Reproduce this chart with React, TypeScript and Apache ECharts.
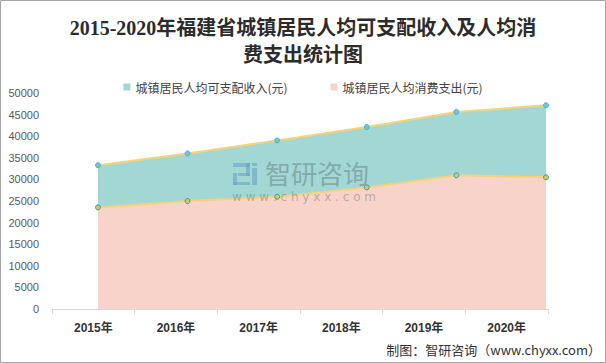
import React, { useEffect, useRef } from "react";
import * as echarts from "echarts";

const categories = ["2015年", "2016年", "2017年", "2018年", "2019年", "2020年"];
const incomeValues = [33275, 36014, 39001, 42121, 45620, 47160];
const consumeValues = [23520, 24982, 25980, 28145, 30947, 30487];
const incomeName = "城镇居民人均可支配收入(元)";
const consumeName = "城镇居民人均消费支出(元)";
const titleText = "2015-2020年福建省城镇居民人均可支配收入及人均消\n费支出统计图";
const footerText = "制图：智研咨询（www.chyxx.com）";
const watermarkUrl = "w w w . c h y x x . c o m";

export default function App() {
  const ref = useRef<HTMLDivElement>(null);
  useEffect(() => {
    document.body.style.margin = "0";
    const chart = echarts.init(ref.current!, undefined, { renderer: "svg" });
    const wmColor = "rgba(80,100,110,0.4)";
    const iconColor = "rgba(100,160,200,0.55)";
    const iconRects = [
      [233, 163, 17, 4],
      [246, 163, 4, 13],
      [238, 173, 12, 3],
      [233, 173, 4, 12],
      [233, 182, 17, 3],
      [252, 168, 5, 17],
      [252, 163, 5, 3],
    ];
    const option: any = {
      animation: false,
      backgroundColor: "#ffffff",
      title: {
        text: titleText,
        left: "center",
        top: 9,
        textStyle: {
          fontSize: 20,
          fontWeight: "bold",
          fontFamily: "'Liberation Serif', 'Noto Sans CJK SC', serif",
          color: "#2b2b2b",
          lineHeight: 27,
        },
      },
      legend: {
        top: 76,
        left: "center",
        icon: "rect",
        itemWidth: 7,
        itemHeight: 7,
        itemGap: 43,
        textStyle: {
          fontSize: 12,
          color: "#404040",
          fontFamily: "'Noto Sans CJK SC', sans-serif",
        },
        data: [
          { name: incomeName, itemStyle: { color: "#a2d7d4", borderWidth: 0 } },
          { name: consumeName, itemStyle: { color: "#f8d3ca", borderWidth: 0 } },
        ],
      },
      grid: { left: 52, right: 58, top: 93, bottom: 54 },
      xAxis: [
        {
          type: "category",
          data: categories,
          boundaryGap: true,
          axisLine: { show: true, lineStyle: { color: "#d9d9d9", width: 1 } },
          axisTick: { show: true, length: 5, lineStyle: { color: "#d9d9d9" } },
          axisLabel: {
            fontSize: 12,
            fontWeight: "bold",
            color: "#333333",
            margin: 13,
            fontFamily: "'Liberation Sans', 'Noto Sans CJK SC', sans-serif",
          },
          splitLine: { show: false },
          z: 5,
        },
        {
          type: "value",
          show: false,
          min: -0.513,
          max: 5.022,
          splitLine: { show: false },
        },
      ],
      yAxis: {
        type: "value",
        min: 0,
        max: 50000,
        interval: 5000,
        axisLine: { show: false },
        axisTick: { show: false },
        splitLine: { show: false },
        axisLabel: {
          fontSize: 11,
          color: "#595959",
          margin: 13,
          fontFamily: "'Liberation Sans', sans-serif",
          formatter: (v: number) => String(v),
        },
      },
      series: [
        {
          name: incomeName,
          type: "line",
          xAxisIndex: 1,
          data: incomeValues.map((v, i) => [i, v]),
          symbol: "circle",
          symbolSize: 5,
          showSymbol: true,
          lineStyle: { color: "#f8d27a", width: 2 },
          itemStyle: { color: "#6cc6dc", borderColor: "#45b4d2", borderWidth: 1 },
          areaStyle: { color: "#a2d7d4", opacity: 1 },
          z: 2,
        },
        {
          name: consumeName,
          type: "line",
          xAxisIndex: 1,
          data: consumeValues.map((v, i) => [i, v]),
          symbol: "circle",
          symbolSize: 5,
          showSymbol: true,
          lineStyle: { color: "#f8d27a", width: 2 },
          itemStyle: { color: "#e8c24a", borderColor: "#1f9fc4", borderWidth: 1 },
          areaStyle: { color: "#f8d3ca", opacity: 1 },
          z: 3,
        },
      ],
      graphic: [
        ...iconRects.map((r) => ({
          type: "rect",
          z: 100,
          silent: true,
          shape: { x: r[0], y: r[1], width: r[2], height: r[3] },
          style: { fill: iconColor },
        })),
        {
          type: "text",
          z: 100,
          silent: true,
          x: 265,
          y: 172,
          style: {
            text: "智研咨询",
            fontSize: 26,
            fill: wmColor,
            fontFamily: "'Noto Sans CJK SC', sans-serif",
            verticalAlign: "middle",
          },
        },
        {
          type: "text",
          z: 100,
          silent: true,
          x: 232,
          y: 197,
          style: {
            text: watermarkUrl,
            fontSize: 12,
            fill: wmColor,
            fontFamily: "'DejaVu Sans', sans-serif",
            verticalAlign: "middle",
          },
        },
        {
          type: "text",
          right: 5,
          top: 343,
          z: 100,
          style: {
            text: footerText,
            fontSize: 13,
            fill: "#333333",
            fontFamily: "'Noto Sans CJK SC', sans-serif",
          },
        },
        {
          type: "rect",
          z: 100,
          silent: true,
          shape: { x: 0.5, y: 0.5, width: 605, height: 362 },
          style: { fill: "none", stroke: "#a6a6a6", lineWidth: 1 },
        },
      ],
    };
    chart.setOption(option);
    return () => chart.dispose();
  }, []);
  return <div ref={ref} style={{ width: 606, height: 363 }} />;
}
